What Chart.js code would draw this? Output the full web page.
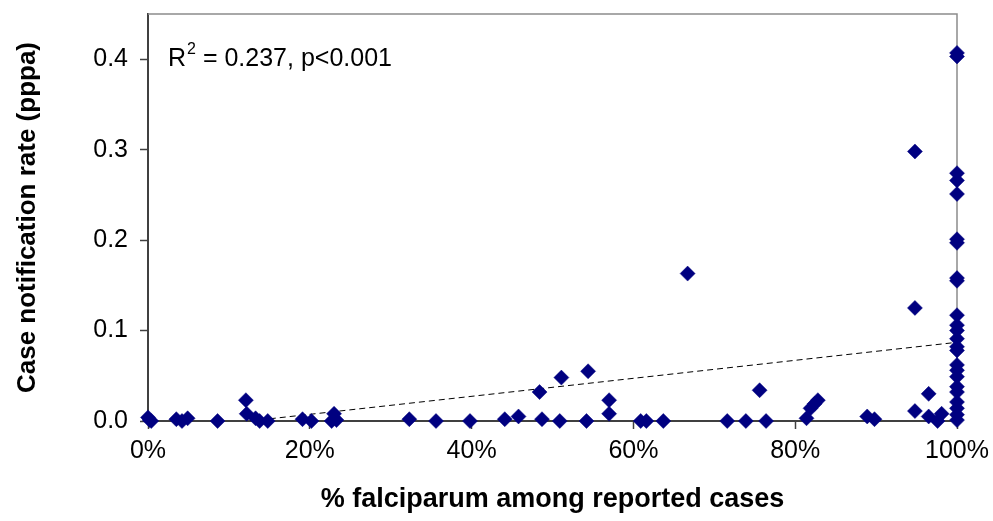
<!DOCTYPE html>
<html>
<head>
<meta charset="utf-8">
<script src="https://cdn.jsdelivr.net/npm/chart.js@4"></script>
<style>
html,body{margin:0;padding:0;background:#fff;}
#wrap{width:993px;height:521px;}
</style>
</head>
<body>
<div id="wrap"><canvas id="c" width="993" height="521"></canvas></div>
<script>
// % falciparum among reported cases (fraction 0-1)
const falcShare = [
  0.000, 0.002, 0.004, 0.035, 0.042, 0.049, 0.086,
  0.121, 0.122, 0.133, 0.138, 0.148, 0.191, 0.202,
  0.227, 0.230, 0.233, 0.323, 0.356, 0.398, 0.441,
  0.458, 0.484, 0.487, 0.509, 0.511, 0.542, 0.544,
  0.570, 0.570, 0.609, 0.616, 0.637, 0.667, 0.716,
  0.739, 0.756, 0.764, 0.814, 0.819, 0.824, 0.828,
  0.889, 0.898, 0.948, 0.948, 0.948, 0.965, 0.965,
  0.976, 0.981,
  1, 1, 1, 1, 1, 1, 1, 1, 1, 1, 1, 1,
  1, 1, 1, 1, 1, 1, 1, 1, 1, 1, 1, 1
];
// Case notification rate (pppa)
const notifRate = [
  0.004, 0.001, 0.000, 0.002, 0.000, 0.003, 0.000,
  0.023, 0.008, 0.003, 0.000, 0.000, 0.002, 0.000,
  0.000, 0.008, 0.001, 0.002, 0.000, 0.000, 0.002,
  0.005, 0.032, 0.002, 0.000, 0.048, 0.000, 0.055,
  0.023, 0.008, 0.000, 0.000, 0.000, 0.163, 0.000,
  0.000, 0.034, 0.000, 0.003, 0.014, 0.019, 0.023,
  0.005, 0.002, 0.298, 0.125, 0.011, 0.030, 0.005,
  0.000, 0.008,
  0.407, 0.403, 0.274, 0.266, 0.251, 0.201, 0.197, 0.158, 0.155, 0.117, 0.106, 0.100,
  0.091, 0.082, 0.078, 0.062, 0.056, 0.049, 0.038, 0.032, 0.021, 0.014, 0.007, 0.001
];
// linear trend line end points
const trendX = [0.126, 1.0];
const trendY = [0.0, 0.087];
// tick values
const xTicks = [0, 0.2, 0.4, 0.6, 0.8, 1.0];
const yTicks = [0, 0.1, 0.2, 0.3, 0.4];
const xTitle = '% falciparum among reported cases';
const yTitle = 'Case notification rate (pppa)';
const annotation = {base: 'R', sup: '2', rest: ' = 0.237, p<0.001'};

const pts = falcShare.map((x, i) => ({x: x, y: notifRate[i]}));
const trend = trendX.map((x, i) => ({x: x, y: trendY[i]}));

const FONT = "'Liberation Sans', Arial, sans-serif";

const framePlugin = {
  id: 'frame',
  beforeDatasetsDraw(chart) {
    const {ctx, chartArea: a} = chart;
    ctx.save();
    ctx.strokeStyle = '#8c8c8c';
    ctx.lineWidth = 1.5;
    ctx.beginPath();
    ctx.moveTo(a.left, a.top);
    ctx.lineTo(a.right, a.top);
    ctx.lineTo(a.right, a.bottom);
    ctx.stroke();
    ctx.restore();
  },
  afterDraw(chart) {
    const {ctx, chartArea: a} = chart;
    ctx.save();
    ctx.fillStyle = '#000';
    ctx.textBaseline = 'alphabetic';
    ctx.font = "25px " + FONT;
    let x = a.left + 20, y = a.top + 52;
    ctx.fillText(annotation.base, x, y);
    x += ctx.measureText(annotation.base).width;
    ctx.font = "16px " + FONT;
    ctx.fillText(annotation.sup, x + 1, y - 12);
    x += ctx.measureText(annotation.sup).width + 1;
    ctx.font = "25px " + FONT;
    ctx.fillText(annotation.rest, x, y);
    ctx.restore();
  }
};

new Chart(document.getElementById('c'), {
  type: 'scatter',
  data: {
    datasets: [
      {
        label: 'data',
        data: pts,
        pointStyle: 'rectRot',
        pointRadius: 7.5,
        pointHoverRadius: 7.5,
        backgroundColor: '#000080',
        borderColor: '#000080',
        borderWidth: 0.5,
        clip: false,
        order: 1
      },
      {
        label: 'trend',
        type: 'line',
        data: trend,
        showLine: true,
        borderColor: '#000',
        borderWidth: 1,
        borderDash: [6, 4],
        pointRadius: 0,
        fill: false,
        order: 2
      }
    ]
  },
  options: {
    responsive: false,
    devicePixelRatio: 1,
    animation: false,
    layout: {padding: {top: 14, right: 36, left: 0, bottom: 0}},
    plugins: {legend: {display: false}, tooltip: {enabled: false}},
    scales: {
      x: {
        type: 'linear',
        min: 0, max: 1,
        afterFit(s) { s.height = 100; s.paddingLeft = 0; s.paddingRight = 0; },
        afterBuildTicks(s) { s.ticks = xTicks.map(v => ({value: v})); },
        ticks: {
          color: '#000',
          font: {family: FONT, size: 25},
          padding: 7,
          maxRotation: 0,
          callback: v => Math.round(v * 100) + '%'
        },
        grid: {drawOnChartArea: false, drawTicks: true, tickLength: 8, tickColor: '#404040', tickWidth: 1.5},
        border: {color: '#404040', width: 2},
        title: {display: true, text: xTitle, color: '#000', font: {family: FONT, size: 27, weight: 'bold'}, padding: {top: 0, bottom: 5}}
      },
      y: {
        type: 'linear',
        min: 0, max: 0.45,
        afterFit(s) { s.width = 148; s.paddingTop = 0; s.paddingBottom = 0; },
        afterBuildTicks(s) { s.ticks = yTicks.map(v => ({value: v})); },
        ticks: {
          color: '#000',
          font: {family: FONT, size: 25},
          padding: 12,
          callback: v => v.toFixed(1)
        },
        grid: {drawOnChartArea: false, drawTicks: true, tickLength: 8, tickColor: '#404040', tickWidth: 1.5},
        border: {color: '#404040', width: 2},
        title: {display: true, text: yTitle, color: '#000', font: {family: FONT, size: 26, weight: 'bold'}, padding: {top: 12, bottom: 0}}
      }
    }
  },
  plugins: [framePlugin]
});
</script>
</body>
</html>
